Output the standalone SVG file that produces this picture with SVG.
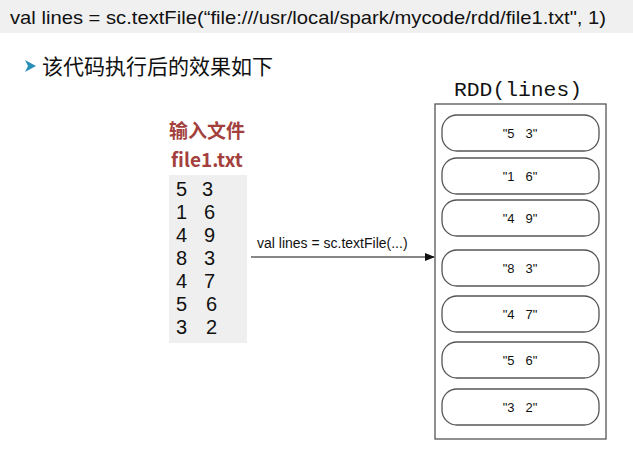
<svg xmlns="http://www.w3.org/2000/svg" width="633" height="463" viewBox="0 0 633 463">
<style>
.t{font-family:"Liberation Sans",Arial,sans-serif;fill:#111}
.pill{fill:#fff;stroke:#555;stroke-width:1.3}
.pt{font-family:"Liberation Sans",Arial,sans-serif;font-size:13px;fill:#111;text-anchor:middle;white-space:pre}
.red{font-family:"Noto Sans CJK SC","Liberation Sans",sans-serif;font-weight:bold;fill:#a3403e;font-size:19px}
.num{font-family:"Liberation Sans",Arial,sans-serif;font-size:20px;fill:#111}
</style>
<defs><marker id="ah" markerWidth="10" markerHeight="8" refX="9" refY="4" orient="auto" markerUnits="userSpaceOnUse"><path d="M0,0 L10,4 L0,8 Z" fill="#111"/></marker></defs>
<rect width="633" height="463" fill="#fff"/>
<rect x="0" y="0" width="633" height="33" fill="#f0f0f0"/>
<text class="t" x="10" y="24" font-size="19" textLength="596" lengthAdjust="spacingAndGlyphs">val lines = sc.textFile(“file:///usr/local/spark/mycode/rdd/file1.txt", 1)</text>
<path d="M25,60 L36,66 L25,72 L28,66 Z" fill="#2a8fb8"/>
<text x="42" y="74" font-family="'Noto Sans CJK SC',sans-serif" font-size="21" fill="#111">该代码执行后的效果如下</text>
<g id="input">
<text class="red" x="207" y="138" text-anchor="middle">输入文件</text>
<text class="red" x="207" y="167" text-anchor="middle" font-family="'DejaVu Sans',sans-serif">file1.txt</text>
<rect x="169" y="175" width="78" height="168" fill="#efefef"/>
<g class="num">
<text x="176" y="196">5</text><text x="202" y="196">3</text>
<text x="176" y="219">1</text><text x="204" y="219">6</text>
<text x="176" y="242">4</text><text x="204" y="242">9</text>
<text x="176" y="265">8</text><text x="204" y="265">3</text>
<text x="176" y="288">4</text><text x="204" y="288">7</text>
<text x="176" y="311">5</text><text x="206" y="311">6</text>
<text x="176" y="334">3</text><text x="206" y="334">2</text>
</g>
</g>
<g id="connectors">
<line x1="251" y1="257" x2="434" y2="257" stroke="#111" stroke-width="1.2" marker-end="url(#ah)"/>
<text class="t" x="257" y="248" font-size="14">val lines = sc.textFile(...)</text>
</g>
<g id="rdd">
<text x="518" y="96" text-anchor="middle" font-family="'Liberation Mono',monospace" font-size="20" fill="#111" textLength="128" lengthAdjust="spacingAndGlyphs">RDD(lines)</text>
<rect x="435" y="104" width="171" height="335" fill="#fff" stroke="#555" stroke-width="1.3"/>
<rect class="pill" x="442" y="115" width="157" height="36" rx="15"/><text class="pt" x="520" y="138" xml:space="preserve">"5   3"</text>
<rect class="pill" x="442" y="158" width="157" height="36" rx="15"/><text class="pt" x="520" y="181" xml:space="preserve">"1   6"</text>
<rect class="pill" x="442" y="200" width="157" height="36" rx="15"/><text class="pt" x="520" y="223" xml:space="preserve">"4   9"</text>
<rect class="pill" x="442" y="250" width="157" height="36" rx="15"/><text class="pt" x="520" y="273" xml:space="preserve">"8   3"</text>
<rect class="pill" x="442" y="296" width="157" height="36" rx="15"/><text class="pt" x="520" y="319" xml:space="preserve">"4   7"</text>
<rect class="pill" x="442" y="342" width="157" height="36" rx="15"/><text class="pt" x="520" y="365" xml:space="preserve">"5   6"</text>
<rect class="pill" x="442" y="389" width="157" height="36" rx="15"/><text class="pt" x="520" y="412" xml:space="preserve">"3   2"</text>
</g>
</svg>
